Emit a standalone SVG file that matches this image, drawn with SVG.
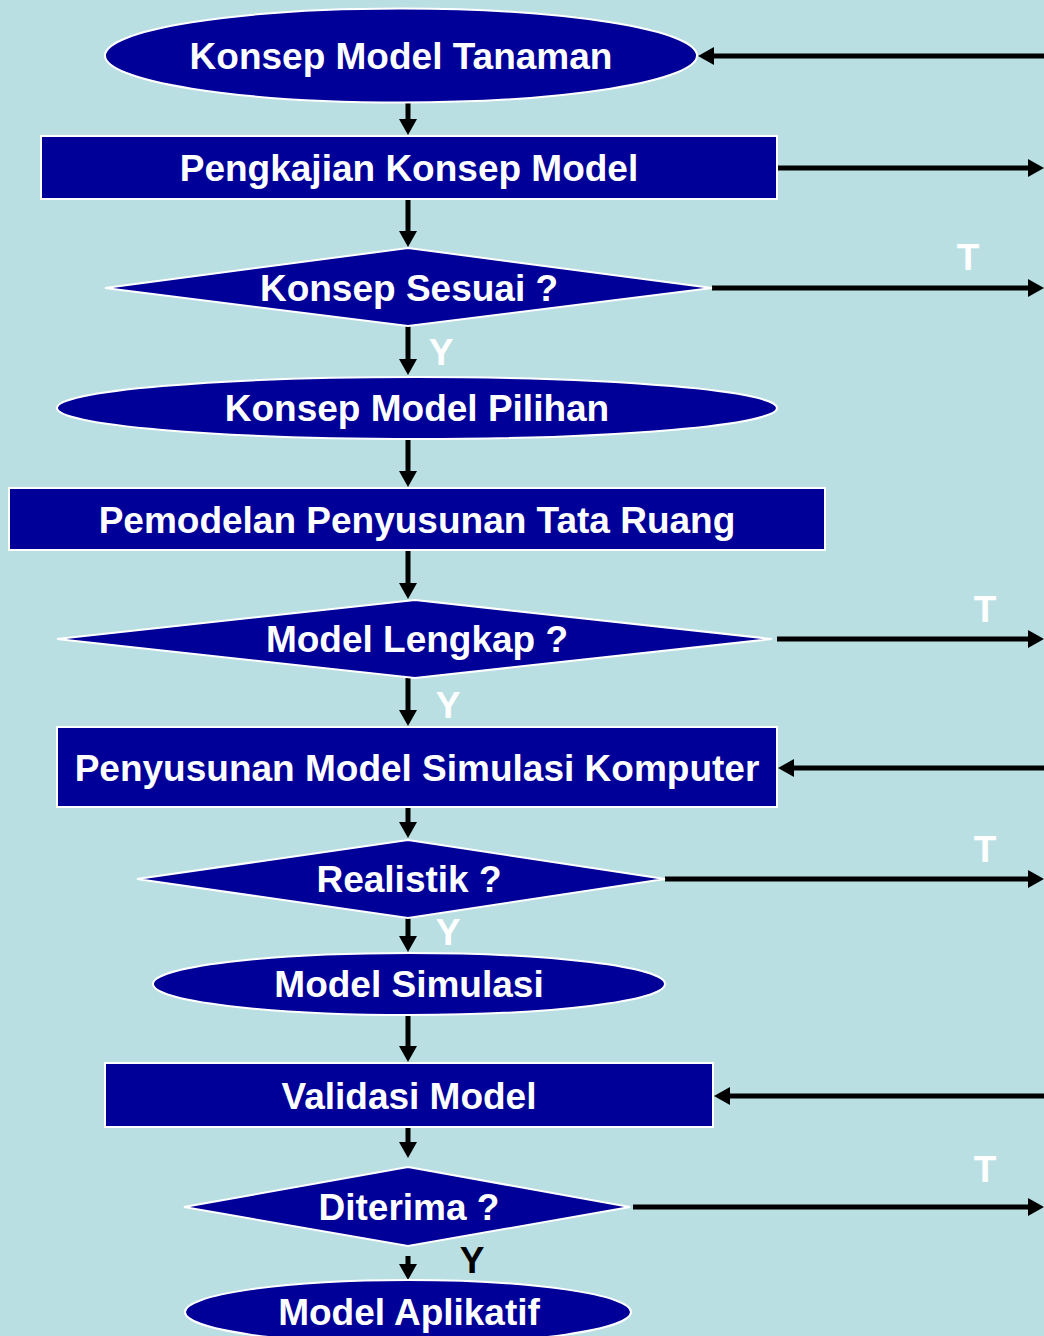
<svg xmlns="http://www.w3.org/2000/svg" width="1044" height="1336" viewBox="0 0 1044 1336">
<style>
.n{fill:#000099;stroke:#ffffff;stroke-width:2}
.t{font-family:"Liberation Sans",Arial,sans-serif;font-weight:bold;font-size:37px;fill:#ffffff;text-anchor:middle}
.c{stroke:#000000;stroke-width:5;fill:none;marker-end:url(#ah)}
.l{font-family:"Liberation Sans",Arial,sans-serif;font-weight:bold;font-size:37px;fill:#ffffff;text-anchor:middle}
</style>
<defs>
<marker id="ah" viewBox="0 0 16 18" refX="2" refY="9" markerWidth="16" markerHeight="18" markerUnits="userSpaceOnUse" orient="auto">
<path d="M0,0 L16,9 L0,18 z" fill="#000000"/>
</marker>
</defs>
<rect width="1044" height="1336" fill="#B9DFE3"/>
<g id="connectors">
<line class="c" x1="408" y1="103" x2="408" y2="121"/>
<line class="c" x1="408" y1="199" x2="408" y2="233"/>
<line class="c" x1="408" y1="326" x2="408" y2="361"/>
<line class="c" x1="408" y1="439" x2="408" y2="473"/>
<line class="c" x1="408" y1="550" x2="408" y2="585"/>
<line class="c" x1="408" y1="678" x2="408" y2="712"/>
<line class="c" x1="408" y1="807" x2="408" y2="824"/>
<line class="c" x1="408" y1="918" x2="408" y2="938"/>
<line class="c" x1="408" y1="1015" x2="408" y2="1048"/>
<line class="c" x1="408" y1="1127" x2="408" y2="1144"/>
<line class="c" x1="408" y1="1256" x2="408" y2="1266"/>
<line class="c" x1="1044" y1="56" x2="712" y2="56"/>
<line class="c" x1="777" y1="168" x2="1030" y2="168"/>
<line class="c" x1="712" y1="288" x2="1030" y2="288"/>
<line class="c" x1="777" y1="639" x2="1030" y2="639"/>
<line class="c" x1="1044" y1="768" x2="792" y2="768"/>
<line class="c" x1="665" y1="879" x2="1030" y2="879"/>
<line class="c" x1="1044" y1="1096" x2="728" y2="1096"/>
<line class="c" x1="633" y1="1207" x2="1030" y2="1207"/>
<text class="l" x="441" y="365">Y</text>
<text class="l" x="448" y="718">Y</text>
<text class="l" x="448" y="945">Y</text>
<text class="l" x="472" y="1273" style="fill:#000000">Y</text>
<text class="l" x="968" y="270">T</text>
<text class="l" x="985" y="622">T</text>
<text class="l" x="985" y="862">T</text>
<text class="l" x="985" y="1182">T</text>
</g>
<g id="n1"><ellipse class="n" cx="401" cy="55.5" rx="296" ry="47"/><text class="t" x="401" y="69">Konsep Model Tanaman</text></g>
<g id="n2"><rect class="n" x="41" y="136" width="736" height="63"/><text class="t" x="409" y="181">Pengkajian Konsep Model</text></g>
<g id="n3"><polygon class="n" points="105,288 408,248 712,288 408,326"/><text class="t" x="409" y="301">Konsep Sesuai ?</text></g>
<g id="n4"><ellipse class="n" cx="417" cy="408" rx="360" ry="31"/><text class="t" x="417" y="421">Konsep Model Pilihan</text></g>
<g id="n5"><rect class="n" x="9" y="488" width="816" height="62"/><text class="t" x="417" y="533">Pemodelan Penyusunan Tata Ruang</text></g>
<g id="n6"><polygon class="n" points="57,639 415,600 772,639 415,678"/><text class="t" x="417" y="652">Model Lengkap ?</text></g>
<g id="n7"><rect class="n" x="57" y="727" width="720" height="80"/><text class="t" x="417" y="781">Penyusunan Model Simulasi Komputer</text></g>
<g id="n8"><polygon class="n" points="137,879 408,840 665,879 408,918"/><text class="t" x="409" y="892">Realistik ?</text></g>
<g id="n9"><ellipse class="n" cx="409" cy="984" rx="256" ry="31"/><text class="t" x="409" y="997">Model Simulasi</text></g>
<g id="n10"><rect class="n" x="105" y="1063" width="608" height="64"/><text class="t" x="409" y="1109">Validasi Model</text></g>
<g id="n11"><polygon class="n" points="184,1207 408,1167 630,1207 408,1246"/><text class="t" x="409" y="1220">Diterima ?</text></g>
<g id="n12"><ellipse class="n" cx="408" cy="1312" rx="223" ry="32"/><text class="t" x="409" y="1325">Model Aplikatif</text></g>
</svg>
